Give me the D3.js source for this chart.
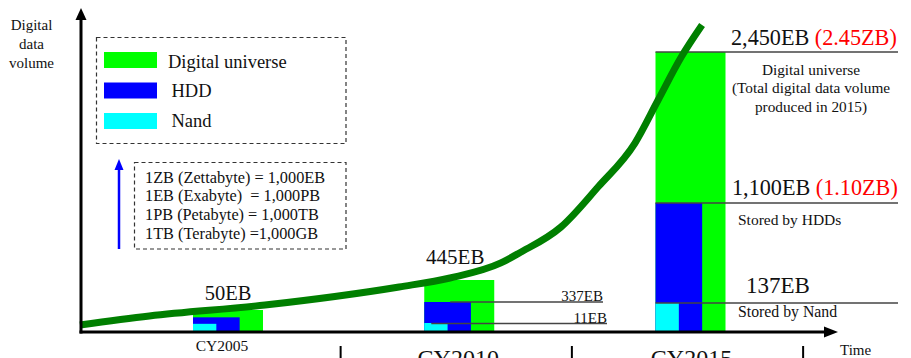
<!DOCTYPE html>
<html>
<head>
<meta charset="utf-8">
<script src="https://cdn.jsdelivr.net/npm/d3@7"></script>
<style>
  html, body { margin: 0; padding: 0; background: #fff; }
  svg { display: block; }
  text { font-family: "Liberation Serif", "Times New Roman", serif; fill: #111; white-space: pre; }
</style>
</head>
<body>
<svg id="chart" width="911" height="358"></svg>
<script>
// ---- data ----------------------------------------------------------------
const categories = ["CY2005", "CY2010", "CY2015"];
const years      = [2005, 2010, 2015];
const universeEB = [50, 445, 2450];   // digital universe (EB)
const hddEB      = [28, 337, 1100];   // stored by HDDs (EB)
const nandEB     = [10, 11, 137];     // stored by NAND (EB)

// growth trend of the digital universe: [year, EB]
const trend = [
  [2001.8, 8.5], [2003.3, 32], [2005.8, 112], [2008.7, 411], [2009.8, 462],
  [2010.9, 590], [2011.3, 675], [2012.2, 896], [2013.0, 1243], [2013.8, 1636],
  [2014.3, 2021], [2014.8, 2405], [2015.25, 2691]
];

const legendItems = ["Digital universe", "HDD", "Nand"];
const unitLines = [
  "1ZB (Zettabyte) = 1,000EB",
  "1EB (Exabyte)  = 1,000PB",
  "1PB (Petabyte) = 1,000TB",
  "1TB (Terabyte) =1,000GB"
];
const colors = { universe: "#00ff00", hdd: "#0000ff", nand: "#00ffff", trend: "#007f00" };

// ---- scales --------------------------------------------------------------
const svg = d3.select("#chart");
const baseY = 332;
const x = d3.scaleLinear().domain([2005, 2015]).range([228, 690.5]);
// schematic, non-uniform volume axis
const y = d3.scaleLinear()
  .domain([0, 11, 50, 137, 337, 445, 1100, 2450])
  .range([baseY, 323, 310, 303, 302, 280, 203, 52]);

const barW = 70, colW = barW / 3;

// ---- bars ----------------------------------------------------------------
const groups = svg.append("g").selectAll("g")
  .data(years.map((yr, i) => ({ yr, u: universeEB[i], h: hddEB[i], n: nandEB[i] })))
  .join("g")
  .attr("transform", d => `translate(${x(d.yr) - barW / 2},0)`);

groups.append("rect").attr("x", 0).attr("width", barW)
  .attr("y", d => y(d.u)).attr("height", d => baseY - y(d.u)).attr("fill", colors.universe);
groups.append("rect").attr("x", 0).attr("width", colW * 2)
  .attr("y", d => y(d.h)).attr("height", d => baseY - y(d.h)).attr("fill", colors.hdd);
groups.append("rect").attr("x", 0).attr("width", colW)
  .attr("y", d => y(d.n)).attr("height", d => baseY - y(d.n)).attr("fill", colors.nand);

// ---- value leader lines --------------------------------------------------
const lineColor = "#444";
const lead = svg.append("g").attr("stroke", lineColor).attr("stroke-width", 1.3);
// CY2010
lead.append("line").attr("x1", x(2010) - 9).attr("x2", 603)
  .attr("y1", y(hddEB[1])).attr("y2", y(hddEB[1]));
lead.append("line").attr("x1", x(2010) - 28).attr("x2", 607)
  .attr("y1", y(nandEB[1]) + 0.5).attr("y2", y(nandEB[1]) + 0.5);
// CY2015
[universeEB[2], hddEB[2], nandEB[2]].forEach(v => {
  lead.append("line").attr("x1", x(2015) - barW / 2).attr("x2", 898)
    .attr("y1", y(v)).attr("y2", y(v));
});

// ---- trend curve ---------------------------------------------------------
svg.append("path")
  .datum(trend)
  .attr("fill", "none")
  .attr("stroke", colors.trend)
  .attr("stroke-width", 7)
  .attr("d", d3.line().x(d => x(d[0])).y(d => y(d[1])).curve(d3.curveMonotoneX));

// ---- axes ----------------------------------------------------------------
const axisX0 = 81;
const axes = svg.append("g");
axes.append("line").attr("x1", axisX0).attr("x2", axisX0).attr("y1", baseY + 1.5).attr("y2", 18)
  .attr("stroke", "#000").attr("stroke-width", 3);
axes.append("path").attr("d", `M${axisX0},8 L${axisX0 - 5.5},20 L${axisX0 + 5.5},20 Z`).attr("fill", "#000");
axes.append("line").attr("x1", axisX0 - 1.5).attr("x2", 826).attr("y1", baseY).attr("y2", baseY)
  .attr("stroke", "#000").attr("stroke-width", 3);
axes.append("path").attr("d", `M838,${baseY} L824,${baseY - 5.5} L824,${baseY + 5.5} Z`).attr("fill", "#000");

// category separators below the time axis
svg.append("g").selectAll("line")
  .data([2007.5, 2012.5, 2017.5])
  .join("line")
  .attr("x1", d => x(d) - 3).attr("x2", d => x(d) - 3)
  .attr("y1", 346).attr("y2", 358)
  .attr("stroke", "#000").attr("stroke-width", 2);

// axis titles
svg.append("text").attr("text-anchor", "middle").attr("font-size", 15)
  .selectAll("tspan").data(["Digital", "data", "volume"]).join("tspan")
  .attr("x", 31.5).attr("y", (d, i) => 30 + i * 19).text(d => d);
svg.append("text").attr("x", 840).attr("y", 355).attr("font-size", 15).text("Time");

// category labels
svg.append("text").attr("x", x(years[0]) - 6).attr("y", 351).attr("text-anchor", "middle")
  .attr("font-size", 15.5).text(categories[0]);
[1, 2].forEach(i => {
  svg.append("text").attr("x", x(years[i]) - 3 + i * 2).attr("y", 366).attr("text-anchor", "middle")
    .attr("font-size", 24).text(categories[i]);
});

// ---- value labels --------------------------------------------------------
svg.append("text").attr("x", x(2005)).attr("y", 300).attr("text-anchor", "middle")
  .attr("font-size", 20.5).text(`${universeEB[0]}EB`);
svg.append("text").attr("x", x(2010) - 4).attr("y", 263.5).attr("text-anchor", "middle")
  .attr("font-size", 21).text(`${universeEB[1]}EB`);
svg.append("text").attr("x", 603).attr("y", 300.5).attr("text-anchor", "end")
  .attr("font-size", 15).text(`${hddEB[1]}EB`);
svg.append("text").attr("x", 607).attr("y", 323).attr("text-anchor", "end")
  .attr("font-size", 15).text(`${nandEB[1]}EB`);

const fmt = d3.format(",");
function bigLabel(xp, yp, eb) {
  const t = svg.append("text").attr("x", xp).attr("y", yp).attr("font-size", 22.2);
  t.append("tspan").text(`${fmt(eb)}EB `);
  t.append("tspan").attr("fill", "#ff0000").style("fill", "#ff0000")
    .text(`(${(eb / 1000).toFixed(2)}ZB)`);
}
bigLabel(731, 44.5, universeEB[2]);
bigLabel(732, 195, hddEB[2]);
svg.append("text").attr("x", 746).attr("y", 293).attr("font-size", 23).text(`${nandEB[2]}EB`);

svg.append("text").attr("text-anchor", "middle").attr("font-size", 15.3)
  .selectAll("tspan")
  .data(["Digital universe", "(Total digital data volume", "produced in 2015)"])
  .join("tspan").attr("x", 811).attr("y", (d, i) => 75 + i * 18.3).text(d => d);
svg.append("text").attr("x", 738).attr("y", 225).attr("font-size", 15.5).text("Stored by HDDs");
svg.append("text").attr("x", 738).attr("y", 317).attr("font-size", 15.8).text("Stored by Nand");

// ---- legend --------------------------------------------------------------
const legend = svg.append("g");
legend.append("rect").attr("x", 96.5).attr("y", 37.5).attr("width", 249.5).attr("height", 106)
  .attr("fill", "none").attr("stroke", "#333").attr("stroke-width", 1.2).attr("stroke-dasharray", "4,3");
const legendFill = [colors.universe, colors.hdd, colors.nand];
legendItems.forEach((label, i) => {
  legend.append("rect").attr("x", 104).attr("y", 52 + i * 30.5).attr("width", 53).attr("height", 16)
    .attr("fill", legendFill[i]);
  legend.append("text").attr("x", i === 0 ? 168 : 171.5).attr("y", 67.5 + i * 29.5)
    .attr("font-size", 18.5).text(label);
});

// ---- unit conversion note -----------------------------------------------
const note = svg.append("g");
note.append("rect").attr("x", 134.5).attr("y", 162.5).attr("width", 211.5).attr("height", 86.5)
  .attr("fill", "none").attr("stroke", "#333").attr("stroke-width", 1.2).attr("stroke-dasharray", "4,3");
note.append("line").attr("x1", 119).attr("x2", 119).attr("y1", 249).attr("y2", 168)
  .attr("stroke", "#0000ff").attr("stroke-width", 2.5);
note.append("path").attr("d", "M119,159 L114.5,170 L123.5,170 Z").attr("fill", "#0000ff");
note.selectAll("text.unit").data(unitLines).join("text").attr("class", "unit")
  .attr("x", 145).attr("y", (d, i) => 182.5 + i * 18.7).attr("font-size", 16.3).text(d => d);
</script>
</body>
</html>
